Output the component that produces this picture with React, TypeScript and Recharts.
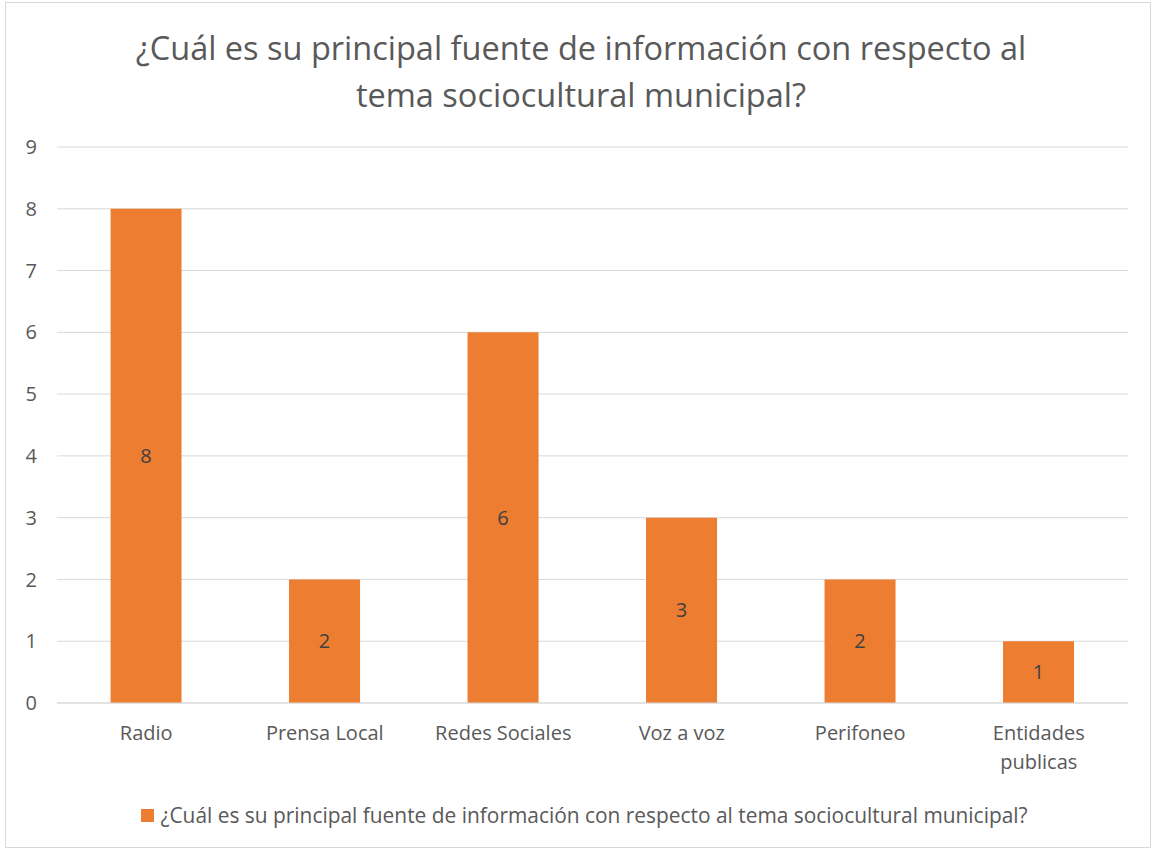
import React from 'react';
import { BarChart, Bar, XAxis, YAxis, CartesianGrid, LabelList, Legend } from 'recharts';

const categories = ['Radio', 'Prensa Local', 'Redes Sociales', 'Voz a voz', 'Perifoneo', 'Entidades publicas'];
const values = [8, 2, 6, 3, 2, 1];
const yTicks = [0, 1, 2, 3, 4, 5, 6, 7, 8, 9];
const seriesName = '¿Cuál es su principal fuente de información con respecto al tema sociocultural municipal?';

const data = categories.map((c, i) => ({ name: c, value: values[i] }));

const FONT = '"Open Sans", "Noto Sans", sans-serif';
const TEXT = '#595959';

function CatTick(props: any) {
  const { x, y, payload } = props;
  const lines = payload.value === 'Entidades publicas' ? ['Entidades', 'publicas'] : [payload.value];
  return (
    <g transform={`translate(${x},${y})`}>
      {lines.map((l, i) => (
        <text key={i} x={0} y={29 + i * 29} textAnchor="middle" fill={TEXT} fontSize={20} fontFamily={FONT}>
          {l}
        </text>
      ))}
    </g>
  );
}

function LegendContent() {
  return (
    <div style={{ display: 'flex', alignItems: 'center', justifyContent: 'center', fontFamily: FONT, fontSize: 20.9, color: TEXT, paddingTop: 28, paddingLeft: 34 }}>
      <span style={{ display: 'inline-block', width: 13, height: 13, background: '#ED7D31', marginRight: 6 }} />
      <span>{seriesName}</span>
    </div>
  );
}

export default function App() {
  return (
    <div style={{ position: 'absolute', left: 0, top: 0, width: 1151, height: 850, background: '#fff' }}>
      <div style={{ position: 'absolute', left: 5, top: 2, width: 1146, height: 846, border: '1px solid #d9d9d9', boxSizing: 'border-box' }} />
      <div style={{ position: 'absolute', left: 8, top: 24, width: 1146, textAlign: 'center', fontFamily: FONT, fontSize: 32.5, lineHeight: '47px', color: TEXT }}>
        ¿Cuál es su principal fuente de información con respecto al
        <br />
        tema sociocultural municipal?
      </div>
      <div style={{ position: 'absolute', left: 0, top: 0 }}>
        <BarChart width={1151} height={850} data={data} margin={{ top: 147, right: 23, bottom: 37, left: 7 }} barCategoryGap="30%">
          <CartesianGrid vertical={false} stroke="#d9d9d9" />
          <XAxis dataKey="name" axisLine={{ stroke: '#d9d9d9' }} tickLine={false} tick={<CatTick />} height={70} interval={0} />
          <YAxis domain={[0, 9]} ticks={yTicks} axisLine={false} tickLine={false} width={50} tick={{ fill: TEXT, fontSize: 20, fontFamily: FONT }} tickMargin={14} />
          <Legend verticalAlign="bottom" height={40} content={<LegendContent />} />
          <Bar dataKey="value" name={seriesName} fill="#ED7D31" isAnimationActive={false}>
            <LabelList dataKey="value" position="center" fill="#404040" fontSize={20} fontFamily={FONT} />
          </Bar>
        </BarChart>
      </div>
    </div>
  );
}
